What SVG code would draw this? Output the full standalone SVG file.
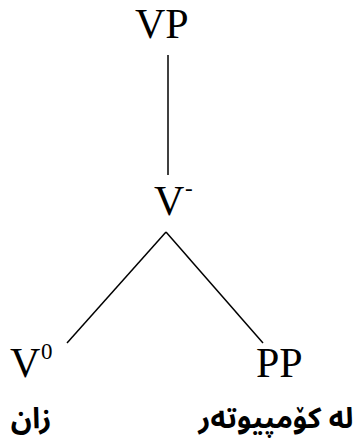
<svg xmlns="http://www.w3.org/2000/svg" width="358" height="442" viewBox="0 0 358 442">
<style>
.lbl{font-family:"Liberation Serif","Times New Roman",serif;font-size:42px;fill:#000}
.sup{font-family:"Liberation Serif","Times New Roman",serif;font-size:23px;fill:#000}
.ar{font-family:"Noto Sans Arabic","Noto Sans","DejaVu Sans",sans-serif;font-size:29px;font-weight:bold;fill:#000}
.edge{stroke:#000;stroke-width:1.5;fill:none}
</style>
<rect width="358" height="442" fill="#fff"/>
<g id="edges">
<line class="edge" x1="168" y1="55" x2="168" y2="175"/>
<line class="edge" x1="166" y1="232" x2="67" y2="343"/>
<line class="edge" x1="166" y1="232" x2="263" y2="343"/>
</g>
<g id="VP"><text class="lbl" x="135" y="38">VP</text></g>
<g id="Vbar"><text class="lbl" x="154" y="215">V</text><text class="sup" x="185" y="196">-</text></g>
<g id="V0"><text class="lbl" x="10" y="377">V</text><text class="sup" x="41" y="359">0</text></g>
<g id="PP"><text class="lbl" x="256" y="377">PP</text></g>
<g id="w1"><text class="ar" x="31" y="428" text-anchor="middle">زان</text></g>
<g id="w2"><text class="ar" x="276" y="428" text-anchor="middle">لە کۆمپیوتەر</text></g>
</svg>
